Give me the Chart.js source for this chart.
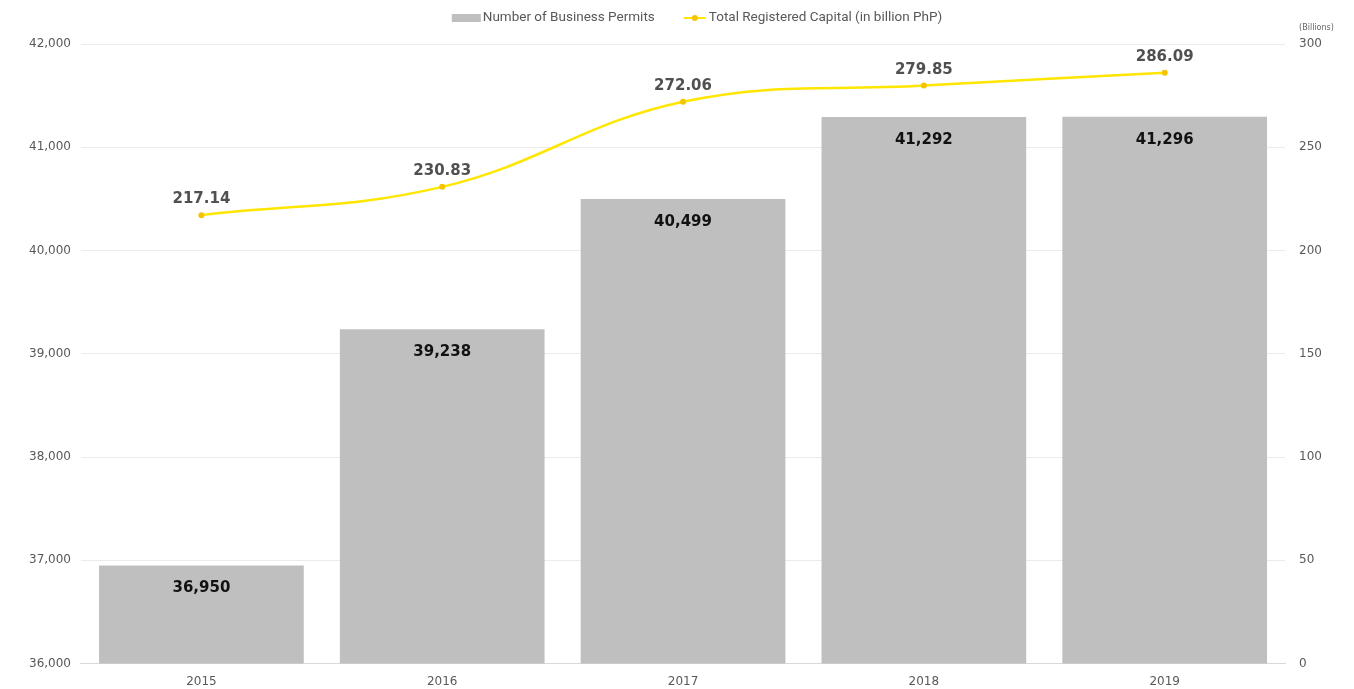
<!DOCTYPE html>
<html>
<head>
<meta charset="utf-8">
<script src="https://cdn.jsdelivr.net/npm/chart.js@4"></script>
<style>
  html, body { margin: 0; padding: 0; background: #fff; overflow: hidden; }
  canvas { display: block; }
</style>
</head>
<body>
<canvas id="chartArea" width="1354" height="689"></canvas>
<script>
const years = ['2015', '2016', '2017', '2018', '2019'];
const permits = [36950, 39238, 40499, 41292, 41296];
const capital = [217.14, 230.83, 272.06, 279.85, 286.09];
const permitTicks = [36000, 37000, 38000, 39000, 40000, 41000, 42000];
const capitalTicks = [0, 50, 100, 150, 200, 250, 300];
const seriesNames = ['Number of Business Permits', 'Total Registered Capital (in billion PhP)'];

const barColor = '#bfbfbf';
const lineColor = '#ffe600';
const pointColor = '#f5c400';
const textColor = '#595959';

// legend drawn by hand so the swatches and gaps match
const topLegend = {
    id: 'topLegend',
    afterDraw(chart) {
        const ctx = chart.ctx;
        ctx.save();
        ctx.font = '13.5px Roboto';
        ctx.textBaseline = 'middle';
        const w0 = ctx.measureText(seriesNames[0]).width;
        const w1 = ctx.measureText(seriesNames[1]).width;
        const total = 29 + 2 + w0 + 29 + 22 + 3 + w1;
        let x = 697 - total / 2;
        const y = 18;
        ctx.fillStyle = barColor;
        ctx.fillRect(x, y - 4, 29, 8);
        x += 31;
        ctx.fillStyle = textColor;
        ctx.fillText(seriesNames[0], x, y);
        x += w0 + 29;
        ctx.strokeStyle = lineColor;
        ctx.lineWidth = 2;
        ctx.beginPath(); ctx.moveTo(x, y); ctx.lineTo(x + 22, y); ctx.stroke();
        ctx.fillStyle = pointColor;
        ctx.beginPath(); ctx.arc(x + 11, y, 3, 0, Math.PI * 2); ctx.fill();
        x += 25;
        ctx.fillStyle = textColor;
        ctx.fillText(seriesNames[1], x, y);
        ctx.restore();
    }
};

const valueLabels = {
    id: 'valueLabels',
    afterDatasetsDraw(chart) {
        const ctx = chart.ctx;
        ctx.save();
        ctx.textAlign = 'center';
        ctx.textBaseline = 'middle';
        ctx.font = 'bold 15px "DejaVu Sans"';
        chart.getDatasetMeta(1).data.forEach((bar, i) => {
            ctx.fillStyle = '#111';
            ctx.fillText(permits[i].toLocaleString('en-US'), bar.x, bar.y + 23);
        });
        chart.getDatasetMeta(0).data.forEach((pt, i) => {
            ctx.fillStyle = '#505050';
            ctx.fillText(capital[i].toFixed(2), pt.x, pt.y - 16);
        });
        // unit note over the right axis
        const y1 = chart.scales.y1;
        ctx.font = '8px "DejaVu Sans"';
        ctx.fillStyle = '#666';
        ctx.textAlign = 'left';
        ctx.fillText('(Billions)', y1.left + 14, y1.top - 16);
        ctx.restore();
    }
};

new Chart(document.getElementById('chartArea'), {
    data: {
        labels: years,
        datasets: [
            {
                type: 'line',
                label: seriesNames[1],
                data: capital,
                yAxisID: 'y1',
                borderColor: lineColor,
                borderWidth: 2.5,
                backgroundColor: pointColor,
                pointBackgroundColor: pointColor,
                pointBorderWidth: 0,
                pointRadius: 3,
                tension: 0.4,
                order: 0
            },
            {
                type: 'bar',
                label: seriesNames[0],
                data: permits,
                yAxisID: 'y',
                backgroundColor: barColor,
                barPercentage: 0.85,
                categoryPercentage: 1,
                order: 1
            }
        ]
    },
    options: {
        responsive: false,
        animation: false,
        layout: { padding: { left: 19, right: 18, top: 44, bottom: -11 } },
        plugins: {
            tooltip: { enabled: false },
            legend: { display: false }
        },
        scales: {
            x: {
                grid: { display: false, drawTicks: false },
                border: { color: '#d9d9d9', width: 1 },
                ticks: { color: textColor, font: { family: 'DejaVu Sans', size: 12 }, padding: 11 }
            },
            y: {
                position: 'left',
                min: permitTicks[0],
                max: permitTicks[permitTicks.length - 1],
                afterBuildTicks(scale) { scale.ticks = permitTicks.map(v => ({ value: v })); },
                grid: { color: '#ebebeb', drawTicks: false },
                border: { display: false },
                ticks: {
                    color: textColor,
                    padding: 10,
                    font: { family: 'DejaVu Sans', size: 12 },
                    callback: v => v.toLocaleString('en-US')
                }
            },
            y1: {
                position: 'right',
                min: capitalTicks[0],
                max: capitalTicks[capitalTicks.length - 1],
                afterBuildTicks(scale) { scale.ticks = capitalTicks.map(v => ({ value: v })); },
                grid: { display: false, drawTicks: false },
                border: { display: false },
                ticks: { color: textColor, padding: 14, font: { family: 'DejaVu Sans', size: 12 } }
            }
        }
    },
    plugins: [valueLabels, topLegend]
});
</script>
</body>
</html>
